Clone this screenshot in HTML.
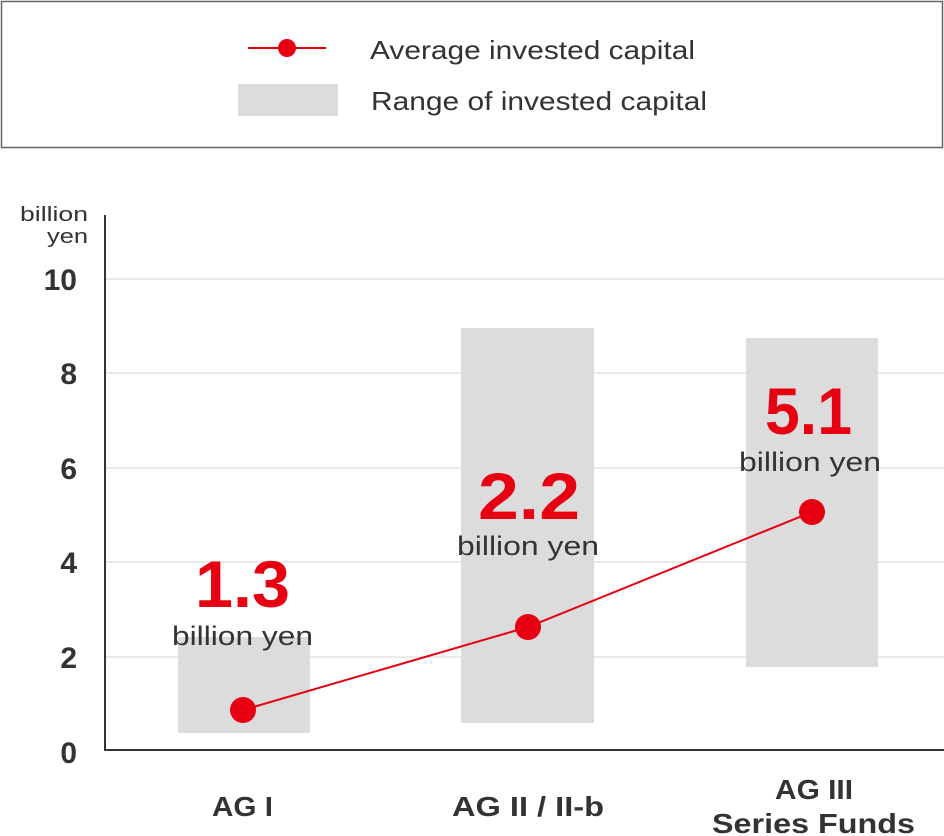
<!DOCTYPE html>
<html><head><meta charset="utf-8"><style>
html,body{margin:0;padding:0;background:#fff;}
svg{display:block;font-family:"Liberation Sans",sans-serif;}
</style></head><body>
<svg width="944" height="836" viewBox="0 0 944 836" xmlns="http://www.w3.org/2000/svg">
<rect x="1.5" y="1.5" width="941" height="146" fill="#fff" stroke="#666" stroke-width="1.5"/>
<line x1="248" y1="48" x2="326" y2="48" stroke="#e60012" stroke-width="2"/>
<circle cx="287" cy="48" r="9" fill="#e60012"/>
<text x="370" y="59" font-size="26" fill="#333" textLength="325" lengthAdjust="spacingAndGlyphs">Average invested capital</text>
<rect x="238" y="84" width="100" height="32" fill="#dcdcdc"/>
<text x="371" y="110" font-size="26" fill="#333" textLength="336" lengthAdjust="spacingAndGlyphs">Range of invested capital</text>

<g stroke="#e3e3e3" stroke-width="1.5">
<line x1="105" y1="279" x2="944" y2="279"/>
<line x1="105" y1="373" x2="944" y2="373"/>
<line x1="105" y1="468" x2="944" y2="468"/>
<line x1="105" y1="562" x2="944" y2="562"/>
<line x1="105" y1="657" x2="944" y2="657"/>
</g>
<rect x="178" y="637" width="132" height="96" fill="#dcdcdc"/>
<rect x="461" y="328" width="133" height="395" fill="#dcdcdc"/>
<rect x="746" y="338" width="132" height="329" fill="#dcdcdc"/>
<line x1="105" y1="215" x2="105" y2="751" stroke="#333" stroke-width="2"/>
<line x1="104" y1="750" x2="944" y2="750" stroke="#333" stroke-width="2"/>

<text x="20" y="221" font-size="20" fill="#333" textLength="68" lengthAdjust="spacingAndGlyphs">billion</text>
<text x="47" y="243" font-size="20" fill="#333" textLength="41" lengthAdjust="spacingAndGlyphs">yen</text>
<g font-size="30" font-weight="bold" fill="#333" text-anchor="end">
<text x="77" y="290">10</text>
<text x="77" y="384">8</text>
<text x="77" y="479">6</text>
<text x="77" y="573">4</text>
<text x="77" y="668">2</text>
<text x="77" y="763">0</text>
</g>

<polyline points="243,710 528,627 812,512" fill="none" stroke="#e60012" stroke-width="2"/>
<circle cx="243" cy="710" r="13" fill="#e60012"/>
<circle cx="528" cy="627" r="13" fill="#e60012"/>
<circle cx="812" cy="512" r="13" fill="#e60012"/>

<g font-size="66" font-weight="bold" fill="#e60012">
<text x="195" y="607" textLength="95" lengthAdjust="spacingAndGlyphs">1.3</text>
<text x="478" y="519" textLength="102" lengthAdjust="spacingAndGlyphs">2.2</text>
<text x="765" y="434" textLength="87" lengthAdjust="spacingAndGlyphs">5.1</text>
</g>
<g font-size="27" fill="#333">
<text x="172" y="645" textLength="141" lengthAdjust="spacingAndGlyphs">billion yen</text>
<text x="457" y="555" textLength="142" lengthAdjust="spacingAndGlyphs">billion yen</text>
<text x="739" y="471" textLength="142" lengthAdjust="spacingAndGlyphs">billion yen</text>
</g>

<g font-size="28" font-weight="bold" fill="#333">
<text x="212" y="816" textLength="61" lengthAdjust="spacingAndGlyphs">AG I</text>
<text x="452" y="816" textLength="152" lengthAdjust="spacingAndGlyphs">AG II / II-b</text>
<text x="775" y="799" textLength="78" lengthAdjust="spacingAndGlyphs">AG III</text>
<text x="712" y="833" textLength="203" lengthAdjust="spacingAndGlyphs">Series Funds</text>
</g>
</svg>
</body></html>
